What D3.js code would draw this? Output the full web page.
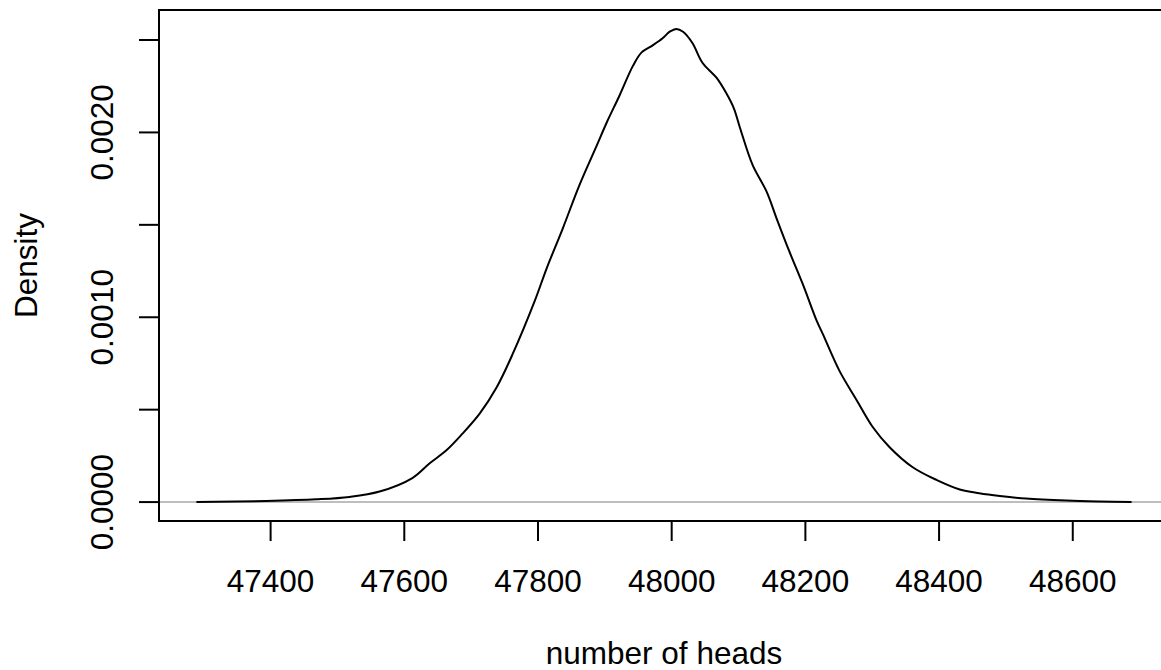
<!DOCTYPE html>
<html>
<head>
<meta charset="utf-8">
<script src="https://cdn.jsdelivr.net/npm/d3@7"></script>
<style>
  body { margin: 0; background: #fff; }
  svg { display: block; overflow: hidden; }
  text { font-family: "Liberation Sans", Arial, Helvetica, sans-serif; font-size: 31.5px; fill: #000; }
</style>
</head>
<body>
<svg id="chart" width="1161" height="670"></svg>
<script>
//
// Data
//

// number of heads
var heads = [47289, 47393, 47468, 47518, 47563, 47612, 47638, 47663, 47687, 47713,
  47738, 47762, 47795, 47813, 47837, 47862, 47888, 47903, 47922, 47942,
  47955, 47971, 47986, 47997, 48007, 48017, 48031, 48046, 48067, 48082,
  48093, 48102, 48121, 48142, 48157, 48176, 48196, 48217, 48226, 48251,
  48277, 48301, 48326, 48360, 48396, 48431, 48460, 48491, 48530, 48591,
  48640, 48688]
// density estimate
var density = [0, 0.000006, 0.000015, 0.000028, 0.000057, 0.00013, 0.00021, 0.00028, 0.00037, 0.00048,
  0.00062, 0.0008, 0.001087, 0.001265, 0.00148, 0.001715, 0.00193, 0.002055, 0.0022, 0.00236,
  0.002433, 0.00247, 0.002508, 0.002545, 0.00256, 0.002545, 0.002484, 0.002377, 0.002296, 0.00221,
  0.00213, 0.002027, 0.001824, 0.00168, 0.001534, 0.001356, 0.00118, 0.00098, 0.00091, 0.00071,
  0.00055, 0.000405, 0.000297, 0.00019, 0.00012, 0.000068, 0.000048, 0.000033, 0.000019, 0.000008,
  0.000003, 0]

var xTicks = [47400, 47600, 47800, 48000, 48200, 48400, 48600]
var yTicks = [0, 0.0005, 0.0010, 0.0015, 0.0020, 0.0025]
// R drops the labels that would overlap, only these are printed
var yLabels = [0, 0.0010, 0.0020]
var xTitle = 'number of heads'
var yTitle = 'Density'

//
// Layout
//

// plot region (right edge sits just past the window, like the original)
var plotL = 159, plotT = 10, plotR = 1169, plotB = 521
var tickLen = 20

// R style 4% axis extension
function extend(ext) {
  var d = (ext[1] - ext[0]) * 0.04
  return [ext[0] - d, ext[1] + d]
}

var x = d3.scaleLinear().domain(extend(d3.extent(heads))).range([plotL, plotR])
var y = d3.scaleLinear().domain(extend([0, d3.max(density)])).range([plotB, plotT])

var svg = d3.select('#chart')

// zero line
svg.append('line')
  .attr('x1', plotL).attr('x2', plotR)
  .attr('y1', y(0)).attr('y2', y(0))
  .attr('stroke', '#bebebe').attr('stroke-width', 2)

// density curve
var line = d3.line()
  .x(function(d, i) { return x(heads[i]) })
  .y(function(d) { return y(d) })
  .curve(d3.curveCatmullRom.alpha(0.5))

svg.append('path')
  .datum(density)
  .attr('d', line)
  .attr('fill', 'none')
  .attr('stroke', '#000')
  .attr('stroke-width', 2)

// box
svg.append('rect')
  .attr('x', plotL).attr('y', plotT)
  .attr('width', plotR - plotL).attr('height', plotB - plotT)
  .attr('fill', 'none').attr('stroke', '#000').attr('stroke-width', 2)

// x axis
var xAxis = svg.append('g')
xAxis.selectAll('line').data(xTicks).enter().append('line')
  .attr('x1', function(d) { return x(d) }).attr('x2', function(d) { return x(d) })
  .attr('y1', plotB).attr('y2', plotB + tickLen)
  .attr('stroke', '#000').attr('stroke-width', 2)
xAxis.selectAll('text').data(xTicks).enter().append('text')
  .attr('x', function(d) { return x(d) })
  .attr('y', 592)
  .attr('text-anchor', 'middle')
  .text(function(d) { return d })

// y axis
var yAxis = svg.append('g')
yAxis.selectAll('line').data(yTicks).enter().append('line')
  .attr('x1', plotL - tickLen).attr('x2', plotL)
  .attr('y1', function(d) { return y(d) }).attr('y2', function(d) { return y(d) })
  .attr('stroke', '#000').attr('stroke-width', 2)
yAxis.selectAll('text').data(yLabels).enter().append('text')
  .attr('transform', function(d) { return 'translate(112.5,' + y(d) + ') rotate(-90)' })
  .attr('text-anchor', 'middle')
  .text(function(d) { return d3.format('.4f')(d) })

// titles
svg.append('text')
  .attr('x', (plotL + plotR) / 2).attr('y', 664)
  .attr('text-anchor', 'middle')
  .text(xTitle)

svg.append('text')
  .attr('transform', 'translate(37,' + (plotT + plotB) / 2 + ') rotate(-90)')
  .attr('text-anchor', 'middle')
  .text(yTitle)
</script>
</body>
</html>
